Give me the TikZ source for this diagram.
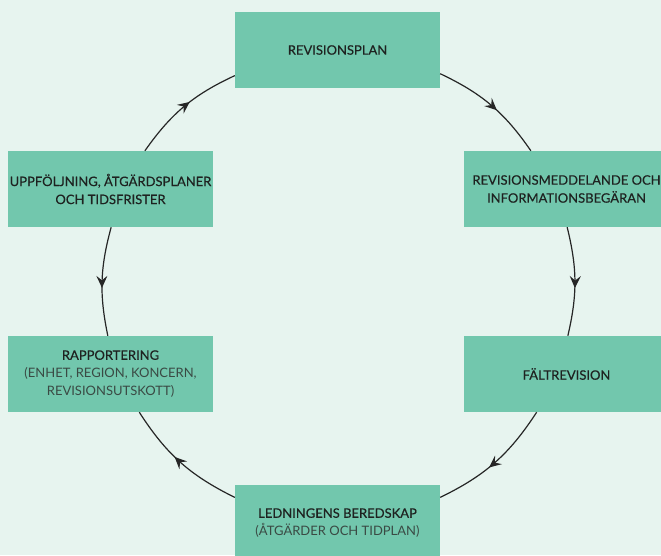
\documentclass[tikz,border=0pt]{standalone}
\usepackage{fontspec}
\setmainfont{Lato}
\newfontfamily\medfont{Lato}[FakeBold=0.35]
\usetikzlibrary{arrows.meta}
\usetikzlibrary{decorations.markings}
\definecolor{bgmint}{RGB}{231,244,239}
\definecolor{boxgreen}{RGB}{114,199,173}
\definecolor{txtdark}{RGB}{30,34,32}
\definecolor{txtlite}{RGB}{58,74,68}
\newcommand{\lite}[1]{\textcolor{txtlite}{\normalfont #1}}
\tikzset{
  stage/.style={rectangle, fill=boxgreen, draw=none, minimum width=205pt, minimum height=76pt,
    inner sep=0pt, align=center, text=txtdark, font=\fontsize{13}{18}\selectfont\medfont},
  flow/.style={draw=black!85, line width=1.2pt,
    decoration={markings, mark=at position 0.56 with {\arrow{Stealth[length=12pt,width=11pt,inset=4.5pt]}}},
    postaction=decorate}
}

\begin{document}
\begin{tikzpicture}[x=1pt,y=1pt]
        \useasboundingbox (0,0) rectangle (661,-555);
        \clip (0,0) rectangle (661,-555);
        \fill[bgmint] (0,0) rectangle (661,-555);
        % boxes
        \node[stage] (plan)   at (337.5,-50)  {REVISIONSPLAN};
        \node[stage] (notice) at (566.5,-189) {REVISIONSMEDDELANDE OCH\\INFORMATIONSBEGÄRAN};
        \node[stage] (field)  at (566.5,-374) {FÄLTREVISION};
        \node[stage] (mgmt)   at (337.5,-523) {LEDNINGENS BEREDSKAP\\\lite{(ÅTGÄRDER OCH TIDPLAN)}};
        \node[stage] (report) at (110.5,-374) {RAPPORTERING\\\lite{(ENHET, REGION, KONCERN,}\\\lite{REVISIONSUTSKOTT)}};
        \node[stage] (follow) at (110.5,-189) {UPPFÖLJNING, ÅTGÄRDSPLANER\\OCH TIDSFRISTER};
        % cycle
        \draw[flow] (follow.48)  to[bend left=15]    (plan.194);
        \draw[flow] (plan.347)   to[bend left=15]    (notice.133);
        \draw[flow] (notice.271) to[bend left=13.5]  (field.88);
        \draw[flow] (field.232)  to[bend left=15.5]  (mgmt.14);
        \draw[flow] (mgmt.166)   to[bend left=15.5]  (report.307);
        \draw[flow] (follow.271) to[bend right=13.5] (report.94);
\end{tikzpicture}
\end{document}
